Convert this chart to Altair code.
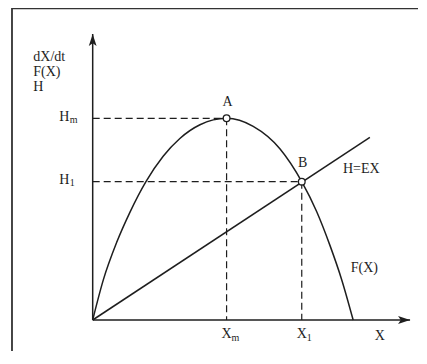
import altair as alt
import pandas as pd

INK = "#1e1e1e"
FONT = "Liberation Serif"

# ---- values (model units) ----
curve_x = [0, 0.41, 0.92, 1.43, 2.04, 2.70, 3.34, 4.11, 5.13, 6.15, 7.18, 8.01, 8.58, 9.09, 9.54, 9.98]
curve_y = [0, 2.0, 3.85, 5.35, 6.86, 8.12, 9.0, 9.68, 10.0, 9.6, 8.48, 6.86, 5.38, 3.7, 2.0, 0]
harvest_x = [0, 10.62]
harvest_y = [0, 9.06]
Xm, Hm = 5.13, 10.0
X1, H1 = 8.01, 6.86
x_tip, y_tip = 12.16, 14.18
x_domain = [-3.245, 12.464]
y_domain = [-1.537, 15.419]
frame_x = [-3.092, -3.092, 13.2]
frame_y = [-3.0, 15.45, 15.45]
stack_labels = ["dX/dt", "F(X)", "H"]

xs = alt.Scale(domain=x_domain, nice=False, zero=False)
ys = alt.Scale(domain=y_domain, nice=False, zero=False)


def X(f):
    return alt.X(f, type="quantitative", scale=xs, axis=None)


def Y(f):
    return alt.Y(f, type="quantitative", scale=ys, axis=None)


frame = alt.Chart(pd.DataFrame({"x": frame_x, "y": frame_y, "o": [0, 1, 2]})).mark_line(
    color="#333", strokeWidth=1.8, strokeJoin="miter").encode(
    x=X("x"), y=Y("y"), order="o:Q")

axes_df = pd.DataFrame({"x": [0, 0], "y": [0, 0], "x2": [x_tip, 0], "y2": [0, y_tip]})
axes = alt.Chart(axes_df).mark_rule(color=INK, strokeWidth=1.5).encode(
    x=X("x"), y=Y("y"), x2="x2", y2="y2")

arrow_up = alt.Chart(pd.DataFrame({"x": [0], "y": [y_tip]})).mark_point(
    shape="M0,0 L1.3,4 L0,3.1 L-1.3,4 Z", size=36, filled=True, color=INK, opacity=1
).encode(x=X("x"), y=Y("y"))
arrow_right = alt.Chart(pd.DataFrame({"x": [x_tip], "y": [0]})).mark_point(
    shape="M0,0 L-4,-1.3 L-3.1,0 L-4,1.3 Z", size=36, filled=True, color=INK, opacity=1
).encode(x=X("x"), y=Y("y"))

guides_df = pd.DataFrame({
    "x": [0, Xm, 0, X1],
    "y": [Hm, Hm, H1, H1],
    "x2": [Xm, Xm, X1, X1],
    "y2": [Hm, 0, H1, 0],
})
guides = alt.Chart(guides_df).mark_rule(color=INK, strokeWidth=1.2, strokeDash=[7, 4]).encode(
    x=X("x"), y=Y("y"), x2="x2", y2="y2")

curve = alt.Chart(pd.DataFrame({"x": curve_x, "y": curve_y})).mark_line(
    color=INK, strokeWidth=1.5, interpolate="monotone").encode(x=X("x"), y=Y("y"))

harvest = alt.Chart(pd.DataFrame({"x": harvest_x, "y": harvest_y})).mark_line(
    color=INK, strokeWidth=1.5).encode(x=X("x"), y=Y("y"))

pts = alt.Chart(pd.DataFrame({"x": [Xm, X1], "y": [Hm, H1]})).mark_point(
    shape="circle", size=45, filled=True, fill="white", stroke=INK, strokeWidth=1.3, opacity=1
).encode(x=X("x"), y=Y("y"))


def txt(df, **kw):
    base = dict(font=FONT, fontSize=14, color=INK)
    base.update(kw)
    return alt.Chart(df).mark_text(**base).encode(x=X("x"), y=Y("y"), text="t:N")


lab_A = txt(pd.DataFrame({"x": [Xm], "y": [Hm], "t": ["A"]}), align="center", baseline="alphabetic", dx=1, dy=-12.5)
lab_B = txt(pd.DataFrame({"x": [X1], "y": [H1], "t": ["B"]}), align="center", baseline="alphabetic", dx=1, dy=-14.5)
lab_HEX = txt(pd.DataFrame({"x": [9.59], "y": [7.27], "t": ["H=EX"]}), align="left", baseline="alphabetic")
lab_FX = txt(pd.DataFrame({"x": [9.885], "y": [2.38], "t": ["F(X)"]}), align="left", baseline="alphabetic")
lab_X = txt(pd.DataFrame({"x": [11.0], "y": [0], "t": ["X"]}), align="center", baseline="alphabetic", dy=20.5)

lab_Xbase = txt(pd.DataFrame({"x": [Xm, X1], "y": [0, 0], "t": ["X", "X"]}),
                align="center", baseline="alphabetic", dy=18.5)
lab_Xsub = txt(pd.DataFrame({"x": [Xm, X1], "y": [0, 0], "t": ["m", "1"]}),
               align="left", baseline="alphabetic", fontSize=10, dx=5, dy=21)

lab_Hbase = txt(pd.DataFrame({"x": [0, 0], "y": [Hm, H1], "t": ["H", "H"]}),
                align="right", baseline="middle", dx=-23.4, dy=-1.5)
lab_Hsub = txt(pd.DataFrame({"x": [0, 0], "y": [Hm, H1], "t": ["m", "1"]}),
               align="left", baseline="alphabetic", fontSize=10, dx=-23, dy=4.4)

stack = alt.Chart(pd.DataFrame({"x": [-2.276], "y": [12.82], "t": [stack_labels]})).mark_text(
    font=FONT, fontSize=14, color=INK, align="left", baseline="alphabetic", lineHeight=15
).encode(x=X("x"), y=Y("y"), text="t")

chart = alt.layer(
    frame, guides, axes, arrow_up, arrow_right, curve, harvest, pts,
    lab_A, lab_B, lab_HEX, lab_FX, lab_X, lab_Xbase, lab_Xsub, lab_Hbase, lab_Hsub, stack
).properties(
    width=410, height=342,
    padding={"left": 0, "top": 1, "right": 0, "bottom": 0},
    autosize=alt.AutoSizeParams(type="none"),
    background="white",
).configure_view(stroke=None)

chart.save("out.html", embed_options={"renderer": "svg", "actions": False})
